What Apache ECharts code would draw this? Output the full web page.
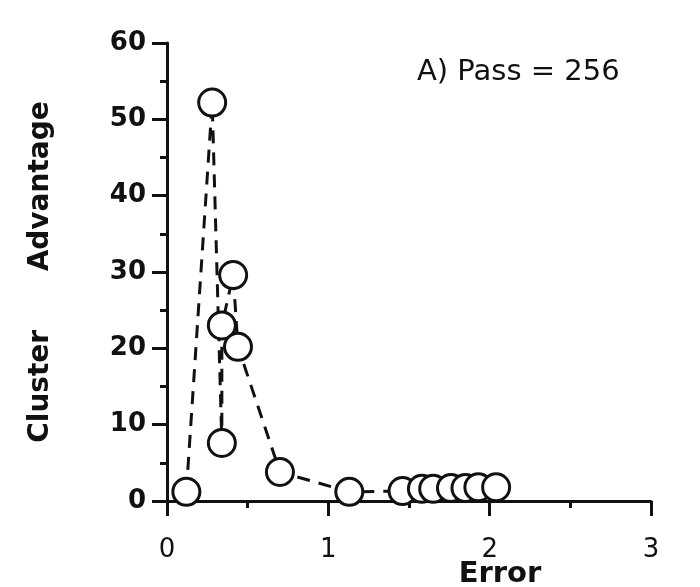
<!DOCTYPE html>
<html>
<head>
<meta charset="utf-8">
<script src="https://cdn.jsdelivr.net/npm/echarts@6/dist/echarts.min.js"></script>
<style>
  html, body { margin: 0; padding: 0; background: #fff; }
  #chart { width: 700px; height: 587px; }
</style>
</head>
<body>
<div id="chart"></div>
<script>
// error (x) and cluster advantage (y), in plotting order
const errorValues = [0.12, 0.28, 0.34, 0.34, 0.41, 0.44, 0.70, 1.13, 1.46, 1.58, 1.65, 1.76, 1.85, 1.93, 2.04]
const advantageValues = [1.2, 52.2, 7.6, 23.0, 29.6, 20.2, 3.8, 1.2, 1.3, 1.6, 1.6, 1.7, 1.7, 1.8, 1.8]
const xTicks = [0, 1, 2, 3]
const yTicks = [0, 10, 20, 30, 40, 50, 60]
const panelLabel = 'A) Pass = 256'

const points = errorValues.map((x, i) => [x, advantageValues[i]])
const font = 'DejaVu Sans'

const chart = echarts.init(document.getElementById('chart'))
chart.setOption({
    backgroundColor: '#fff',
    animation: false,
    title: {
        text: panelLabel,
        left: 417,
        top: 58,
        padding: 0,
        textStyle: { fontFamily: font, fontSize: 29, fontWeight: 'normal', color: '#111' }
    },
    grid: { left: 167, right: 49, top: 43, bottom: 86 },
    xAxis: {
        type: 'value',
        min: xTicks[0],
        max: xTicks[xTicks.length - 1],
        interval: 1,
        splitLine: { show: false },
        axisLine: { onZero: false, lineStyle: { color: '#111', width: 3 } },
        axisTick: { length: 15, lineStyle: { color: '#111', width: 3 } },
        minorTick: { show: true, splitNumber: 2, length: 7, lineStyle: { color: '#111', width: 3 } },
        axisLabel: { margin: 36, fontFamily: font, fontSize: 26, color: '#111' }
    },
    yAxis: {
        type: 'value',
        min: yTicks[0],
        max: yTicks[yTicks.length - 1],
        interval: 10,
        name: 'Cluster      Advantage',
        nameLocation: 'middle',
        nameGap: 112,
        nameTextStyle: { fontFamily: font, fontSize: 28, fontWeight: 'bold', color: '#111' },
        splitLine: { show: false },
        axisLine: { onZero: false, lineStyle: { color: '#111', width: 3 } },
        axisTick: { length: 15, lineStyle: { color: '#111', width: 3 } },
        minorTick: { show: true, splitNumber: 2, length: 7, lineStyle: { color: '#111', width: 3 } },
        axisLabel: { margin: 21, fontFamily: font, fontSize: 26, fontWeight: 'bold', color: '#111' }
    },
    graphic: [{
        type: 'text',
        x: 500,
        y: 574,
        style: {
            text: 'Error',
            fontFamily: font,
            fontSize: 29,
            fontWeight: 'bold',
            fill: '#111',
            align: 'center',
            verticalAlign: 'middle'
        }
    }],
    series: [{
        type: 'line',
        data: points,
        symbol: 'circle',
        symbolSize: 27,
        lineStyle: { color: '#111', width: 3, type: [13, 9] },
        itemStyle: { color: '#fff', borderColor: '#111', borderWidth: 3 },
        z: 3
    }]
})
</script>
</body>
</html>
